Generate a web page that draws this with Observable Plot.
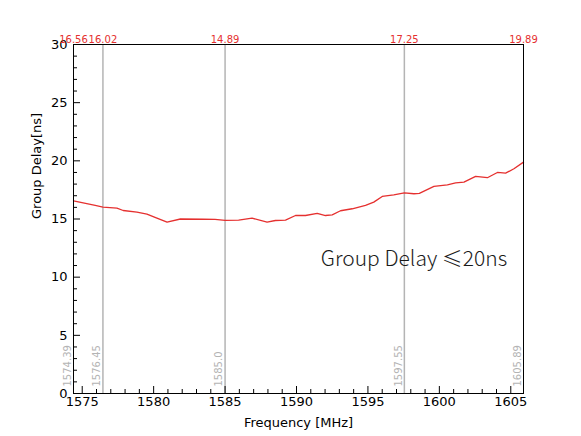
<!DOCTYPE html>
<html>
<head>
<meta charset="utf-8">
<script src="https://cdn.jsdelivr.net/npm/d3@7"></script>
<script src="https://cdn.jsdelivr.net/npm/@observablehq/plot@0.6"></script>
<style>
  body { margin: 0; background: white; }
</style>
</head>
<body>
<div id="chart"></div>
<script>
const freq = [1574.39,1575.91,1576.45,1577.43,1577.87,1578.83,1579.53,1580.23,1580.94,1581.87,1583.48,1584.3,1585.0,1585.95,1586.89,1587.94,1588.52,1589.23,1589.93,1590.63,1591.45,1592.03,1592.5,1593.08,1593.9,1594.83,1595.41,1596.0,1596.81,1597.55,1598.22,1598.6,1599.62,1600.56,1601.14,1601.72,1602.54,1603.36,1604.06,1604.64,1605.22,1605.89];
const delay = [16.56,16.17,16.02,15.93,15.73,15.59,15.42,15.07,14.73,15.0,14.98,14.97,14.89,14.9,15.07,14.73,14.87,14.9,15.3,15.3,15.48,15.3,15.36,15.71,15.88,16.17,16.45,16.94,17.08,17.25,17.17,17.2,17.8,17.94,18.1,18.17,18.66,18.55,19.0,18.94,19.32,19.89];

const markerFreqs = [1574.39, 1576.45, 1585.0, 1597.55, 1605.89];
const markerFreqLabels = ["1574.39", "1576.45", "1585.0", "1597.55", "1605.89"];
const markerDelayLabels = ["16.56", "16.02", "14.89", "17.25", "19.89"];
const ruleFreqs = [1576.45, 1585.0, 1597.55];

const xTicks = [1575, 1580, 1585, 1590, 1595, 1600, 1605];
const yTicks = [0, 5, 10, 15, 20, 25, 30];
const xMinor = d3.range(1575, 1606, 1).filter(v => v % 5 !== 0);
const yMinor = d3.range(0, 31, 1).filter(v => v % 5 !== 0);

const annotationText = "Group Delay ≤20ns";
const annotationX = 1591.7;
const annotationY = 11.5;

const data = freq.map((f, i) => ({f, d: delay[i]}));
const markers = markerFreqs.map((f, i) => ({f, fl: markerFreqLabels[i], dl: markerDelayLabels[i]}));

const red = "#e5302f";
const gray = "#b4b4b4";

const chart = Plot.plot({
  width: 581,
  height: 436,
  marginLeft: 73,
  marginRight: 58,
  marginTop: 44,
  marginBottom: 43,
  x: {domain: [1574.39, 1605.89]},
  y: {domain: [0, 30]},
  style: {fontFamily: "DejaVu Sans", fontSize: 12, background: "white", color: "black"},
  marks: [
    Plot.ruleX(ruleFreqs, {stroke: gray, strokeWidth: 1.5}),
    Plot.line(data, {x: "f", y: "d", stroke: red, strokeWidth: 1.3}),
    Plot.frame({stroke: "black", strokeWidth: 1}),
    Plot.axisX({ticks: xTicks, tickSize: 0, tickPadding: 3, fontSize: 13, label: null, tickFormat: d => String(d)}),
    Plot.axisX({ticks: xTicks, tickSize: -7, tickFormat: () => "", label: null}),
    Plot.axisX({ticks: xMinor, tickSize: -4, tickFormat: () => "", label: null}),
    Plot.axisY({ticks: yTicks, tickSize: 0, tickPadding: 6, fontSize: 13, label: null, tickFormat: d => String(d)}),
    Plot.axisY({ticks: yTicks, tickSize: -7, tickFormat: () => "", label: null}),
    Plot.axisY({ticks: yMinor, tickSize: -4, tickFormat: () => "", label: null}),
    Plot.text(markers, {x: "f", text: "dl", frameAnchor: "top", dy: -2, fill: red, fontSize: 10, lineAnchor: "bottom"}),
    Plot.text(markers, {x: "f", y: 0, text: "fl", rotate: -90, textAnchor: "start", lineAnchor: "middle", dx: -6, dy: -7, fill: gray, fontSize: 10}),
    Plot.text([annotationText], {x: annotationX, y: annotationY, text: d => d, textAnchor: "start", fontSize: 21, fill: "#1a1a1a", fontWeight: 300, fontFamily: "Noto Sans CJK SC"}),
    Plot.text(["Frequency [MHz]"], {frameAnchor: "bottom", dy: 33, text: d => d, fontSize: 13}),
    Plot.text(["Group Delay[ns]"], {frameAnchor: "left", dx: -37, rotate: -90, text: d => d, fontSize: 13})
  ]
});
document.getElementById("chart").appendChild(chart);
</script>
</body>
</html>
